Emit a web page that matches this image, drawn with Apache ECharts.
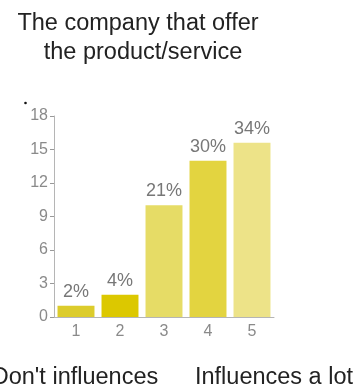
<!DOCTYPE html>
<html>
<head>
<meta charset="utf-8">
<script src="https://cdn.jsdelivr.net/npm/echarts@6/dist/echarts.min.js"></script>
<style>
  html, body { margin: 0; padding: 0; background: #fff; }
  #chart { width: 353px; height: 387px; }
</style>
</head>
<body>
<div id="chart"></div>
<script>
// data
const categories = ["1", "2", "3", "4", "5"];
const counts = [1, 2, 10, 14, 15.6];
const percentLabels = ["2%", "4%", "21%", "30%", "34%"];
const barColors = ["#dccc2c", "#dcc800", "#e6dc66", "#e3d440", "#ede388"];
const yTicks = { min: 0, max: 18, interval: 3 };

const chart = echarts.init(document.getElementById("chart"));
const font = "'Liberation Sans', Arial, sans-serif";

const option = {
  animation: false,
  title: [
    {
      text: "The company that offer",
      left: 133, top: 7, textAlign: "center",
      textStyle: { fontFamily: font, fontSize: 23.5, fontWeight: "normal", color: "#222" },
    },
    {
      text: "the product/service",
      left: 138, top: 36, textAlign: "center",
      textStyle: { fontFamily: font, fontSize: 23.5, fontWeight: "normal", color: "#222" },
    },
    {
      text: "Don't influences",
      left: 70, top: 361, textAlign: "center",
      textStyle: { fontFamily: font, fontSize: 23.5, fontWeight: "normal", color: "#222" },
    },
    {
      text: "Influences a lot",
      left: 269, top: 361, textAlign: "center",
      textStyle: { fontFamily: font, fontSize: 23.5, fontWeight: "normal", color: "#222" },
    },
  ],
  // small dot left of the axis top
  graphic: [
    { type: "circle", shape: { cx: 25.5, cy: 103, r: 1.3 }, style: { fill: "#111" } },
  ],
  grid: { left: 54, top: 116, width: 220, height: 201, containLabel: false },
  xAxis: {
    type: "category",
    data: categories,
    axisLine: { lineStyle: { color: "#b5b5b5", width: 1 } },
    axisTick: { alignWithLabel: true, length: 5, lineStyle: { color: "#999" } },
    axisLabel: { fontFamily: font, fontSize: 16, color: "#8a8a8a", margin: 7 },
  },
  yAxis: {
    type: "value",
    min: yTicks.min, max: yTicks.max, interval: yTicks.interval,
    axisLine: { show: true, lineStyle: { color: "#b5b5b5", width: 1 } },
    axisTick: { show: true, length: 4, lineStyle: { color: "#999" } },
    axisLabel: { fontFamily: font, fontSize: 16, color: "#8a8a8a", margin: 6 },
    splitLine: { show: false },
  },
  series: [
    {
      type: "bar",
      barCategoryGap: "16%",
      data: counts.map((v, i) => ({ value: v, itemStyle: { color: barColors[i] } })),
      label: {
        show: true,
        position: "top",
        distance: 5,
        fontFamily: font,
        fontSize: 18,
        color: "#777",
        formatter: (p) => percentLabels[p.dataIndex],
      },
    },
  ],
};

chart.setOption(option);
</script>
</body>
</html>
